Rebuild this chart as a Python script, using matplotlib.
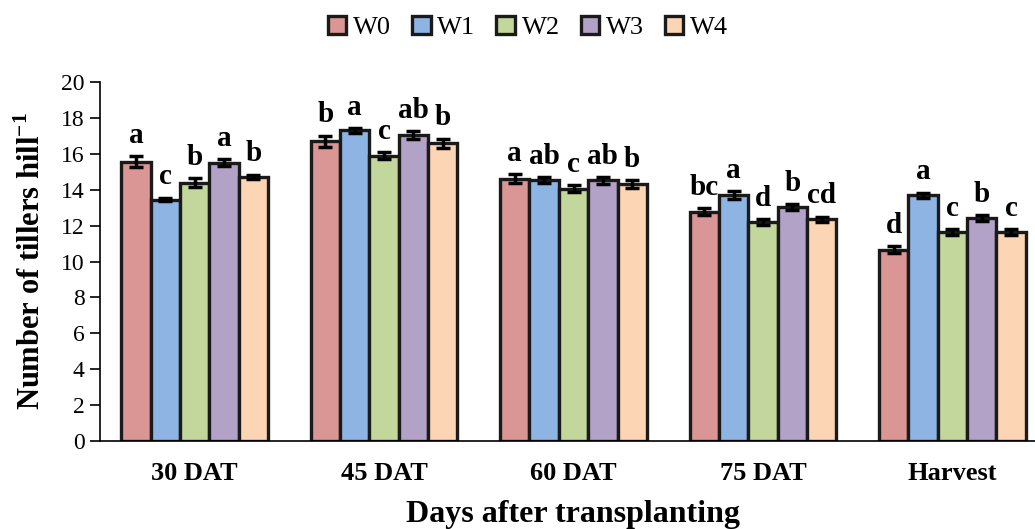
import numpy as np
import matplotlib
matplotlib.use("Agg")
import matplotlib.pyplot as plt

# tiller counts per treatment at each sampling stage
stages = ["30 DAT", "45 DAT", "60 DAT", "75 DAT", "Harvest"]
treatments = ["W0", "W1", "W2", "W3", "W4"]

tillers = {
    "W0": [15.55, 16.70, 14.60, 12.78, 10.65],
    "W1": [13.45, 17.30, 14.55, 13.70, 13.68],
    "W2": [14.38, 15.90, 14.05, 12.20, 11.65],
    "W3": [15.50, 17.05, 14.52, 13.02, 12.42],
    "W4": [14.72, 16.60, 14.32, 12.35, 11.65],
}
errors = {
    "W0": [0.30, 0.30, 0.25, 0.20, 0.20],
    "W1": [0.10, 0.12, 0.15, 0.22, 0.15],
    "W2": [0.25, 0.20, 0.20, 0.15, 0.15],
    "W3": [0.20, 0.20, 0.18, 0.17, 0.15],
    "W4": [0.12, 0.25, 0.22, 0.15, 0.15],
}
letters = {
    "W0": ["a", "b", "a", "bc", "d"],
    "W1": ["c", "a", "ab", "a", "a"],
    "W2": ["b", "c", "c", "d", "c"],
    "W3": ["a", "ab", "ab", "b", "b"],
    "W4": ["b", "b", "b", "cd", "c"],
}
colors = ["#D99694", "#8EB4E3", "#C3D69B", "#B3A2C7", "#FCD5B5"]

plt.rcParams["font.family"] = "serif"
plt.rcParams["font.serif"] = ["Liberation Serif", "DejaVu Serif"]
plt.rcParams["mathtext.fontset"] = "custom"
plt.rcParams["mathtext.rm"] = "Liberation Serif:bold"
plt.rcParams["mathtext.bf"] = "Liberation Serif:bold"

fig = plt.figure(figsize=(10.35, 5.29), dpi=100)
ax = fig.add_axes([100 / 1035, 88 / 529, 947 / 1035, 359 / 529])

x = np.arange(len(stages))
width = 0.155
for i, (t, c) in enumerate(zip(treatments, colors)):
    pos = x + (i - 2) * width
    ax.bar(pos, tillers[t], width, color=c, edgecolor="#1a1a1a", linewidth=2.4,
           label=t, zorder=2)
    ax.errorbar(pos, tillers[t], yerr=errors[t], fmt="none", ecolor="black",
                elinewidth=2.5, capsize=5, capthick=2.5, zorder=3)
    for px, v, e, lab in zip(pos, tillers[t], errors[t], letters[t]):
        ax.text(px, v + e + 0.75, lab, ha="center", va="baseline",
                fontsize=21, fontweight="bold")

ax.set_xlim(-0.5, 4.5)
ax.set_ylim(0, 20)
ax.set_yticks(np.arange(0, 21, 2))
ax.set_xticks(x)
ax.set_xticklabels(stages, fontsize=19, fontweight="bold")
ax.tick_params(axis="x", length=0, pad=15)
ax.tick_params(axis="y", labelsize=17, direction="out", length=7, width=1.2, pad=4)

for side in ["top", "right"]:
    ax.spines[side].set_visible(False)
ax.spines["left"].set_linewidth(1.2)
ax.spines["bottom"].set_linewidth(1.2)

ax.set_ylabel(r"Number of tillers hill$^{-1}$", fontsize=22, fontweight="bold",
              labelpad=10)
ax.set_xlabel("Days after transplanting", fontsize=23, fontweight="bold",
              labelpad=11)

ax.legend(loc="upper center", bbox_to_anchor=(528 / 1035, 1.0), ncol=5,
          bbox_transform=fig.transFigure, frameon=False, fontsize=19,
          handlelength=0.7, handleheight=0.7, handletextpad=0.25,
          columnspacing=0.8, borderaxespad=0.2)

fig.savefig("out.png", dpi=100)
